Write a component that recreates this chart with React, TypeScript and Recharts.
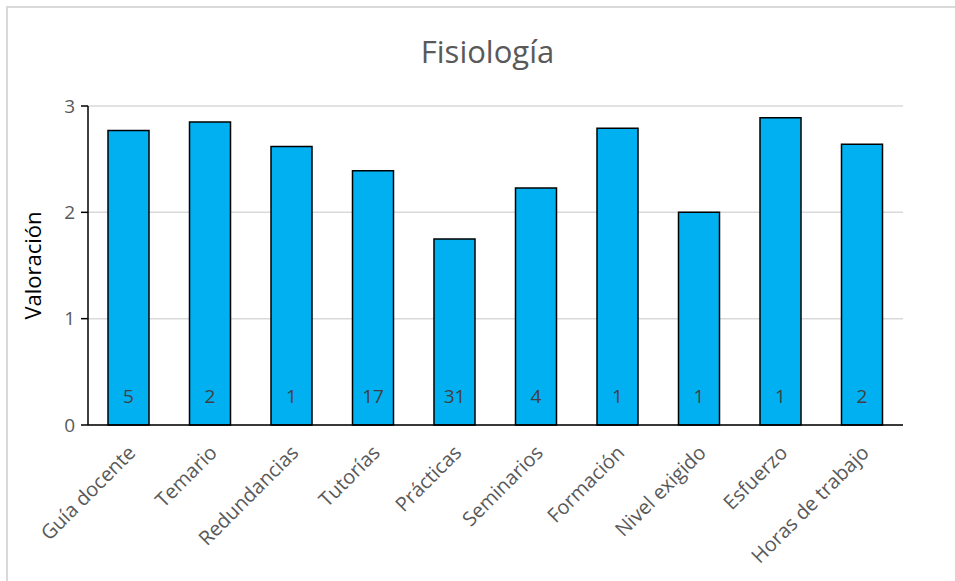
import React from "react";
import {
  BarChart,
  Bar,
  XAxis,
  YAxis,
  CartesianGrid,
  LabelList,
} from "recharts";

const categories = [
  "Guía docente",
  "Temario",
  "Redundancias",
  "Tutorías",
  "Prácticas",
  "Seminarios",
  "Formación",
  "Nivel exigido",
  "Esfuerzo",
  "Horas de trabajo",
];
const valoracion = [2.77, 2.85, 2.62, 2.39, 1.75, 2.23, 2.79, 2.0, 2.89, 2.64];
const respuestas = [5, 2, 1, 17, 31, 4, 1, 1, 1, 2];
const yTicks = [0, 1, 2, 3];

const data = categories.map((name, i) => ({
  name,
  value: valoracion[i],
  n: respuestas[i],
}));

const FONT = "'Open Sans', sans-serif";

const RotatedTick = (props: any) => {
  const { x, y, payload } = props;
  const ax = x + 8;
  const ay = y + 21;
  return (
    <text
      x={ax}
      y={ay}
      transform={`rotate(-45, ${ax}, ${ay})`}
      textAnchor="end"
      fill="#595959"
      fontSize={20}
      fontFamily={FONT}
    >
      {payload.value}
    </text>
  );
};

const App: React.FC = () => {
  return (
    <div
      style={{
        position: "absolute",
        left: 0,
        top: 0,
        width: 955,
        height: 581,
        background: "#fff",
        overflow: "hidden",
      }}
    >
      <div
        style={{
          position: "absolute",
          left: 6,
          top: 6,
          width: 1000,
          height: 700,
          borderTop: "2px solid #d9d9d9",
          borderLeft: "2px solid #d9d9d9",
        }}
      />
      <div
        style={{
          position: "absolute",
          left: 0,
          top: 30,
          width: 975,
          textAlign: "center",
          fontFamily: FONT,
          fontSize: 31,
          color: "#595959",
        }}
      >
        Fisiología
      </div>
      <div style={{ position: "absolute", left: 0, top: 0 }}>
        <BarChart
          width={955}
          height={581}
          data={data}
          margin={{ top: 106, right: 52, bottom: 36, left: 0 }}
          barSize={41}
        >
          <CartesianGrid
            vertical={false}
            stroke="#d9d9d9"
            strokeWidth={1.5}
          />
          <XAxis
            dataKey="name"
            interval={0}
            height={120}
            tickLine={false}
            axisLine={{ stroke: "#000", strokeWidth: 1.5 }}
            tick={<RotatedTick />}
          />
          <YAxis
            width={88}
            domain={[0, 3]}
            ticks={yTicks}
            tickSize={7}
            tickLine={{ stroke: "#000", strokeWidth: 1.5 }}
            axisLine={{ stroke: "#000", strokeWidth: 1.5 }}
            tick={{ fill: "#595959", fontSize: 19, fontFamily: FONT }}
            tickMargin={6}
            label={{
              value: "Valoración",
              angle: -90,
              position: "insideLeft",
              offset: 33,
              style: {
                fill: "#000",
                fontSize: 22,
                fontFamily: FONT,
                textAnchor: "middle",
              },
            }}
          />
          <Bar
            dataKey="value"
            fill="#00b0f0"
            stroke="#000"
            strokeWidth={1.5}
            isAnimationActive={false}
          >
            <LabelList
              dataKey="n"
              position="insideBottom"
              offset={22}
              style={{ fill: "#404040", fontSize: 19, fontFamily: FONT }}
            />
          </Bar>
        </BarChart>
      </div>
    </div>
  );
};

export default App;
